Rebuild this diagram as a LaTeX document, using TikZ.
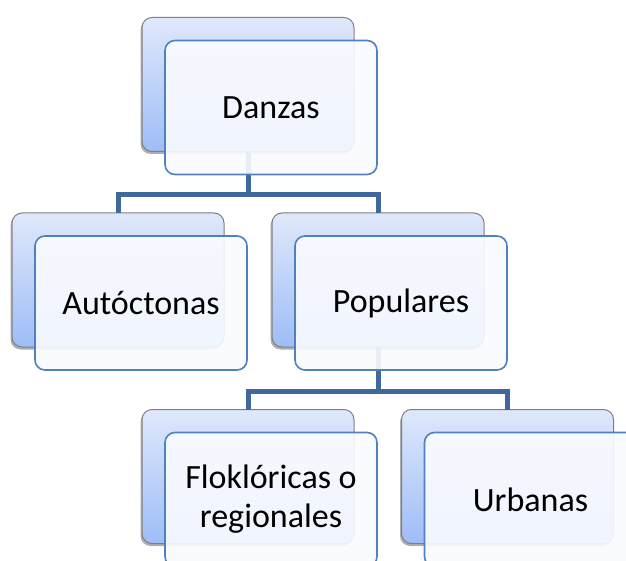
\documentclass[tikz,border=0pt]{standalone}
\usepackage{fontspec}
\setmainfont{Carlito}
\usetikzlibrary{shadows}
\definecolor{backtop}{HTML}{DFE8FB}
\definecolor{backbot}{HTML}{9EBDF7}
\definecolor{backline}{HTML}{7F7F7F}
\definecolor{frontline}{HTML}{4F81BD}
\definecolor{frontfill}{HTML}{FAFBFF}
\definecolor{connline}{HTML}{41689C}
\tikzset{
  backbox/.style={rectangle, rounded corners=10pt, minimum width=212pt, minimum height=134pt,
    inner sep=0pt, outer sep=0pt, draw=backline, line width=1pt,
    top color=backtop, bottom color=backbot,
    drop shadow={shadow xshift=-1.5pt, shadow yshift=-2.5pt, opacity=0.45, fill=black!70}},
  frontbox/.style={rectangle, rounded corners=10pt, minimum width=212pt, minimum height=134pt,
    inner sep=0pt, outer sep=0pt, draw=frontline, line width=1.6pt,
    fill=frontfill, fill opacity=0.9, text opacity=1, align=center,
    font=\fontsize{34}{39}\selectfont},
  conn/.style={draw=connline, line width=5pt, line join=miter}
}
\begin{document}
\begin{tikzpicture}[x=1pt,y=-1pt]
\useasboundingbox (0,0) rectangle (626,561);
% back boxes
\path (248,84.5) node[backbox] (danB) {}
      (118,280) node[backbox] (autB) {}
      (378,280) node[backbox] (popB) {}
      (248,476.5) node[backbox] (floB) {}
      (507.5,476.5) node[backbox] (urbB) {};
% connectors
\draw[conn] (danB.south) -- ++(0,43) -| (autB.north);
\draw[conn] (danB.south) -- ++(0,43) -| (popB.north);
\draw[conn] (popB.south) -- ++(0,44) -| (floB.north);
\draw[conn] (popB.south) -- ++(0,44) -| (urbB.north);
% front boxes
\path (271,107.5) node[frontbox] (danF) {Danzas}
      (141,303) node[frontbox] (autF) {Autóctonas}
      (401,303) node[frontbox] (popF) {Populares}
      (271,499.5) node[frontbox] (floF) {Floklóricas o\\regionales}
      (530.5,499.5) node[frontbox] (urbF) {Urbanas};
\end{tikzpicture}
\end{document}
